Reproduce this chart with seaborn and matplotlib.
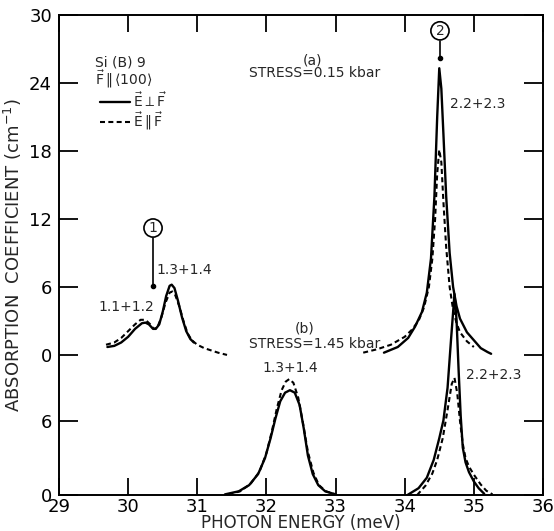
import numpy as np
import pandas as pd
import matplotlib
matplotlib.use("Agg")
import matplotlib.pyplot as plt
from matplotlib.lines import Line2D
import seaborn as sns

# ---- absorption spectra of Si(B) 9, F || <100> (cm^-1 vs meV) ----
# (a) stress 0.15 kbar, low-energy group 1.1+1.2 / 1.3+1.4
a_low_perp_E = [29.70, 29.80, 29.90, 30.00, 30.10, 30.20, 30.25, 30.30, 30.36, 30.40, 30.45, 30.50,
                30.55, 30.60, 30.63, 30.67, 30.72, 30.78, 30.84, 30.90, 30.95]
a_low_perp_k = [0.7, 0.8, 1.1, 1.6, 2.3, 2.8, 2.85, 2.7, 2.3, 2.3, 2.7, 3.8,
                5.2, 6.1, 6.2, 5.9, 4.8, 3.3, 2.1, 1.4, 1.1]
a_low_par_E = [29.68, 29.80, 29.90, 30.00, 30.10, 30.18, 30.25, 30.32, 30.37, 30.42, 30.48, 30.54,
               30.60, 30.64, 30.68, 30.74, 30.80, 30.86, 30.92, 31.00, 31.10, 31.20, 31.30, 31.43]
a_low_par_k = [0.9, 1.1, 1.5, 2.1, 2.7, 3.1, 3.1, 2.7, 2.3, 2.4, 3.3, 4.6,
               5.5, 5.6, 5.3, 4.3, 3.0, 1.9, 1.3, 0.9, 0.6, 0.4, 0.2, 0.0]

# (a) stress 0.15 kbar, 2.2+2.3 line
a_high_perp_E = [33.70, 33.90, 34.05, 34.15, 34.25, 34.32, 34.38, 34.43, 34.47, 34.50, 34.53, 34.56,
                 34.60, 34.65, 34.70, 34.75, 34.80, 34.90, 35.00, 35.10, 35.20, 35.25]
a_high_perp_k = [0.2, 0.7, 1.5, 2.5, 3.8, 5.5, 8.5, 14.0, 21.0, 25.3, 23.5, 19.5,
                 14.0, 9.0, 6.0, 4.3, 3.2, 2.0, 1.3, 0.6, 0.25, 0.1]
a_high_par_E = [33.40, 33.60, 33.80, 34.00, 34.10, 34.20, 34.28, 34.35, 34.40, 34.44, 34.47, 34.50,
                34.53, 34.56, 34.60, 34.65, 34.70, 34.75, 34.80, 34.90, 35.00]
a_high_par_k = [0.2, 0.5, 0.9, 1.6, 2.2, 3.0, 4.2, 6.0, 8.5, 12.0, 16.0, 18.1,
                17.0, 13.5, 9.5, 6.0, 4.0, 2.8, 2.0, 1.2, 0.7]

# (b) stress 1.45 kbar, 1.3+1.4 line
b_low_perp_E = [31.40, 31.60, 31.75, 31.88, 31.98, 32.06, 32.13, 32.20, 32.27, 32.34, 32.41, 32.48,
                32.54, 32.60, 32.67, 32.75, 32.85, 33.00]
b_low_perp_k = [0.05, 0.3, 0.8, 1.7, 3.0, 4.6, 6.2, 7.6, 8.3, 8.5, 8.3, 7.3,
                5.4, 3.2, 1.7, 0.8, 0.3, 0.05]
b_low_par_E = [31.45, 31.62, 31.77, 31.90, 32.00, 32.08, 32.15, 32.22, 32.28, 32.33, 32.39, 32.46,
               32.53, 32.60, 32.68, 32.76, 32.86, 33.00]
b_low_par_k = [0.05, 0.3, 0.9, 1.9, 3.4, 5.2, 7.0, 8.5, 9.2, 9.4, 9.1, 7.9,
               5.8, 3.5, 1.8, 0.8, 0.3, 0.05]

# (b) stress 1.45 kbar, 2.2+2.3 line
b_high_perp_E = [34.04, 34.20, 34.32, 34.42, 34.50, 34.56, 34.62, 34.67, 34.72, 34.75, 34.78, 34.81,
                 34.84, 34.88, 34.93, 35.00, 35.07, 35.15]
b_high_perp_k = [0.0, 0.55, 1.4, 2.85, 4.6, 6.05, 8.7, 12.6, 16.3, 14.2, 10.1, 6.4,
                 3.85, 2.65, 1.85, 1.1, 0.55, 0.1]
b_high_par_E = [34.18, 34.30, 34.40, 34.47, 34.55, 34.62, 34.68, 34.72, 34.76, 34.80, 34.84, 34.88,
                34.93, 35.00, 35.10, 35.18, 35.27]
b_high_par_k = [0.0, 0.75, 1.75, 2.85, 4.6, 6.9, 9.0, 9.5, 8.25, 6.0, 4.15, 3.0,
                2.3, 1.65, 0.85, 0.35, 0.05]

x_ticks = [29, 30, 31, 32, 33, 34, 35, 36]
upper_ticks = [0, 6, 12, 18, 24, 30]
lower_ticks = [0, 6]

# vertical layout: panel (b) sits at the bottom, panel (a) is offset above it
UPPER_BASE = 12.36      # where the (a) zero line sits on the shared axis
LOWER_SCALE = 1.088     # (b) is drawn slightly stretched

curves = [
    ("a1", "a", "perp", a_low_perp_E, a_low_perp_k),
    ("a1", "a", "par", a_low_par_E, a_low_par_k),
    ("a2", "a", "perp", a_high_perp_E, a_high_perp_k),
    ("a2", "a", "par", a_high_par_E, a_high_par_k),
    ("b1", "b", "perp", b_low_perp_E, b_low_perp_k),
    ("b1", "b", "par", b_low_par_E, b_low_par_k),
    ("b2", "b", "perp", b_high_perp_E, b_high_perp_k),
    ("b2", "b", "par", b_high_par_E, b_high_par_k),
]
frames = []
for name, panel, pol, E, k in curves:
    k = np.asarray(k, dtype=float)
    y = UPPER_BASE + k if panel == "a" else k * LOWER_SCALE
    frames.append(pd.DataFrame({"curve": name + pol, "panel": panel, "pol": pol,
                                "energy": E, "k": k, "y": y}))
df = pd.concat(frames, ignore_index=True)

sns.set_theme(style="ticks")
plt.rcParams["font.family"] = ["DejaVu Sans"]
plt.rcParams["mathtext.fontset"] = "dejavusans"

fig = plt.figure(figsize=(5.54, 5.31), dpi=100)
ax = fig.add_axes([0.1065, 0.0678, 0.8736, 0.904])

for cid, sub in df.groupby("curve", sort=False):
    pol = sub["pol"].iloc[0]
    if pol == "perp":
        sns.lineplot(data=sub, x="energy", y="y", ax=ax, color="black", lw=1.7,
                     estimator=None, sort=False, legend=False)
    else:
        sns.lineplot(data=sub, x="energy", y="y", ax=ax, color="black", lw=1.5,
                     dashes=False, estimator=None, sort=False, legend=False)
        ax.lines[-1].set_dashes([2.4, 1.6])

ax.set_xlim(29, 36)
ax.set_ylim(0, UPPER_BASE + 30)

ax.set_xticks(x_ticks)
ax.set_xticklabels([str(t) for t in x_ticks])
ypos = [t * LOWER_SCALE for t in lower_ticks] + [UPPER_BASE + t for t in upper_ticks]
ylab = [str(t) for t in lower_ticks] + [str(t) for t in upper_ticks]
ax.set_yticks(ypos)
ax.set_yticklabels(ylab)

ax.tick_params(axis="both", direction="in", top=True, right=True, labelsize=13,
               width=1.3, colors="black")
ax.tick_params(axis="x", length=12, pad=2)
ax.tick_params(axis="y", length=14, pad=5)
for s in ax.spines.values():
    s.set_linewidth(1.4)
    s.set_color("black")

ax.set_xlabel("PHOTON ENERGY (meV)", fontsize=12, labelpad=-1)
ax.set_ylabel("ABSORPTION  COEFFICIENT (cm$^{-1}$)", fontsize=13, labelpad=4)

# panel captions
ax.text(32.67, UPPER_BASE + 26.0, "(a)", ha="center", va="center", fontsize=10)
ax.text(32.70, UPPER_BASE + 24.9, "STRESS=0.15 kbar", ha="center", va="center", fontsize=10)
ax.text(32.55, 14.7, "(b)", ha="center", va="center", fontsize=10)
ax.text(32.70, 13.3, "STRESS=1.45 kbar", ha="center", va="center", fontsize=10)

# line assignments
ax.text(30.81, UPPER_BASE + 7.5, "1.3+1.4", ha="center", va="center", fontsize=10)
ax.text(29.98, UPPER_BASE + 4.2, "1.1+1.2", ha="center", va="center", fontsize=10)
ax.text(35.06, UPPER_BASE + 22.1, "2.2+2.3", ha="center", va="center", fontsize=10)
ax.text(32.34, 11.2, "1.3+1.4", ha="center", va="center", fontsize=10)
ax.text(35.28, 10.6, "2.2+2.3", ha="center", va="center", fontsize=10)

# sample and field orientation
ax.text(29.52, UPPER_BASE + 25.8, "Si (B) 9", ha="left", va="center", fontsize=10)
ax.text(29.52, UPPER_BASE + 24.3, r"$\vec{\mathrm{F}}\,\Vert\,\langle 100\rangle$",
        ha="left", va="center", fontsize=10)

handles = [Line2D([], [], color="black", lw=1.7),
           Line2D([], [], color="black", lw=1.5, dashes=[2.4, 1.6])]
labels = [r"$\vec{\mathrm{E}}\perp\vec{\mathrm{F}}$", r"$\vec{\mathrm{E}}\,\Vert\,\vec{\mathrm{F}}$"]
ax.legend(handles, labels, loc="upper left", bbox_to_anchor=(0.07, 0.856), frameon=False,
          fontsize=10, handlelength=2.2, handletextpad=0.2, labelspacing=0.05, borderpad=0)

# circled markers for the two transitions
for num, xm, ytop, ytip in [("1", 30.36, UPPER_BASE + 11.2, UPPER_BASE + 6.1),
                            ("2", 34.51, UPPER_BASE + 28.6, UPPER_BASE + 26.2)]:
    ax.plot([xm, xm], [ytop - 0.9, ytip], color="black", lw=1.2)
    ax.plot([xm], [ytip], marker="o", ms=3, color="black")
    ax.text(xm, ytop, num, ha="center", va="center", fontsize=10,
            bbox=dict(boxstyle="circle,pad=0.15", fc="white", ec="black", lw=1.2))

fig.savefig("out.png", dpi=100)
